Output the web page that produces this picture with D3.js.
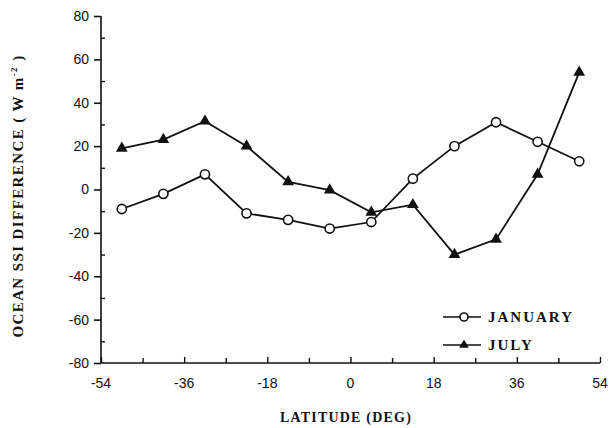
<!DOCTYPE html>
<html>
<head>
<meta charset="utf-8">
<script src="https://cdn.jsdelivr.net/npm/d3@7"></script>
<style>
  body { margin: 0; background: #fff; }
  svg { display: block; }
</style>
</head>
<body>
<div id="chart"></div>
<script>
// latitude bin centres
var latitudes = [-49.5, -40.5, -31.5, -22.5, -13.5, -4.5, 4.5, 13.5, 22.5, 31.5, 40.5, 49.5];
var january = [-9, -2, 7, -11, -14, -18, -15, 5, 20, 31, 22, 13];
var july = [19, 23, 31.5, 20, 3.5, -0.3, -10.5, -7, -30, -23, 7, 54];
var xTicks = [-54, -36, -18, 0, 18, 36, 54];
var xMinor = [-45, -27, -9, 9, 27, 45];
var yTicks = [80, 60, 40, 20, 0, -20, -40, -60, -80];
var yMinor = [70, 50, 30, 10, -10, -30, -50, -70];

var width = 610, height = 428;
var svg = d3.select('#chart').append('svg')
  .attr('width', width)
  .attr('height', height);

var x = d3.scaleLinear().domain([-54, 54]).range([101, 600]);
var y = d3.scaleLinear().domain([-80, 80]).range([363, 16]);

var ink = '#111';
var serif = '"Liberation Serif", "Times New Roman", serif';
var sans = '"Liberation Sans", Arial, sans-serif';

// y axis: major ticks out, minor ticks in
var yAxis = svg.append('g')
  .attr('transform', 'translate(' + x(-54) + ',0)')
  .call(d3.axisLeft(y).tickValues(yTicks).tickSize(7).tickPadding(5).tickFormat(d => String(d)));
yAxis.selectAll('text').attr('font-family', sans).attr('font-size', 14).attr('fill', ink);
yAxis.selectAll('line, path').attr('stroke', ink).attr('stroke-width', 1.6);
yAxis.select('.domain').attr('d', 'M0,' + y(80) + 'V' + y(-80));

svg.append('g')
  .attr('transform', 'translate(' + x(-54) + ',0)')
  .call(d3.axisRight(y).tickValues(yMinor).tickSize(4).tickFormat(''))
  .call(g => g.select('.domain').remove())
  .selectAll('line').attr('stroke', ink).attr('stroke-width', 1.4);

// x axis: ticks point up into the plot
var xAxis = svg.append('g')
  .attr('transform', 'translate(0,' + y(-80) + ')')
  .call(d3.axisTop(x).tickValues(xTicks).tickSize(6).tickFormat(''));
xAxis.selectAll('line').attr('stroke', ink).attr('stroke-width', 1.4);
xAxis.select('.domain').attr('d', 'M' + x(-54) + ',0H' + x(54)).attr('stroke', ink).attr('stroke-width', 1.6);

svg.append('g')
  .attr('transform', 'translate(0,' + y(-80) + ')')
  .call(d3.axisTop(x).tickValues(xMinor).tickSize(5).tickFormat(''))
  .call(g => g.select('.domain').remove())
  .selectAll('line').attr('stroke', ink).attr('stroke-width', 1.4);

svg.append('g').selectAll('text')
  .data(xTicks)
  .enter().append('text')
    .attr('x', d => x(d))
    .attr('y', y(-80) + 25)
    .attr('text-anchor', 'middle')
    .attr('font-family', sans)
    .attr('font-size', 14)
    .attr('fill', ink)
    .text(d => String(d));

// axis titles
svg.append('text')
  .attr('x', 346)
  .attr('y', 422)
  .attr('text-anchor', 'middle')
  .attr('font-family', serif)
  .attr('font-weight', 'bold')
  .attr('font-size', 14)
  .attr('letter-spacing', 1.2)
  .attr('fill', ink)
  .text('LATITUDE (DEG)');

var yTitle = svg.append('text')
  .attr('transform', 'translate(23,' + 196 + ') rotate(-90)')
  .attr('text-anchor', 'middle')
  .attr('font-family', serif)
  .attr('font-weight', 'bold')
  .attr('font-size', 15)
  .attr('letter-spacing', 1.4)
  .attr('fill', ink);
yTitle.append('tspan').text('OCEAN SSI DIFFERENCE ( W m');
yTitle.append('tspan').attr('dy', -6).attr('font-size', 9).text('-2');
yTitle.append('tspan').attr('dy', 6).text(' )');

// series
var line = d3.line().x((d, i) => x(latitudes[i])).y(d => y(d));
var tri = d3.symbol().type(d3.symbolTriangle).size(60);

svg.append('path')
  .datum(july)
  .attr('d', line)
  .attr('fill', 'none')
  .attr('stroke', ink)
  .attr('stroke-width', 1.8);

svg.append('path')
  .datum(january)
  .attr('d', line)
  .attr('fill', 'none')
  .attr('stroke', ink)
  .attr('stroke-width', 1.8);

svg.append('g').selectAll('path')
  .data(july)
  .enter().append('path')
    .attr('d', tri)
    .attr('transform', (d, i) => 'translate(' + x(latitudes[i]) + ',' + y(d) + ')')
    .attr('fill', ink);

svg.append('g').selectAll('circle')
  .data(january)
  .enter().append('circle')
    .attr('cx', (d, i) => x(latitudes[i]))
    .attr('cy', d => y(d))
    .attr('r', 4.6)
    .attr('fill', '#fff')
    .attr('stroke', ink)
    .attr('stroke-width', 1.6);

// legend
var legend = svg.append('g').attr('transform', 'translate(443,317)');
var entries = [{ name: 'JANUARY', mark: 'circle' }, { name: 'JULY', mark: 'triangle' }];
var rows = legend.selectAll('g')
  .data(entries)
  .enter().append('g')
    .attr('transform', (d, i) => 'translate(0,' + i * 28 + ')');
rows.append('line')
  .attr('x1', 0).attr('x2', 38)
  .attr('stroke', ink).attr('stroke-width', 1.6);
rows.filter(d => d.mark === 'circle').append('circle')
  .attr('cx', 21).attr('r', 4)
  .attr('fill', '#fff').attr('stroke', ink).attr('stroke-width', 1.6);
rows.filter(d => d.mark === 'triangle').append('path')
  .attr('d', d3.symbol().type(d3.symbolTriangle).size(40))
  .attr('transform', 'translate(21,0)')
  .attr('fill', ink);
rows.append('text')
  .attr('x', 45)
  .attr('y', 5)
  .attr('font-family', serif)
  .attr('font-weight', 'bold')
  .attr('font-size', 15)
  .attr('letter-spacing', 2)
  .attr('fill', ink)
  .text(d => d.name);
</script>
</body>
</html>
